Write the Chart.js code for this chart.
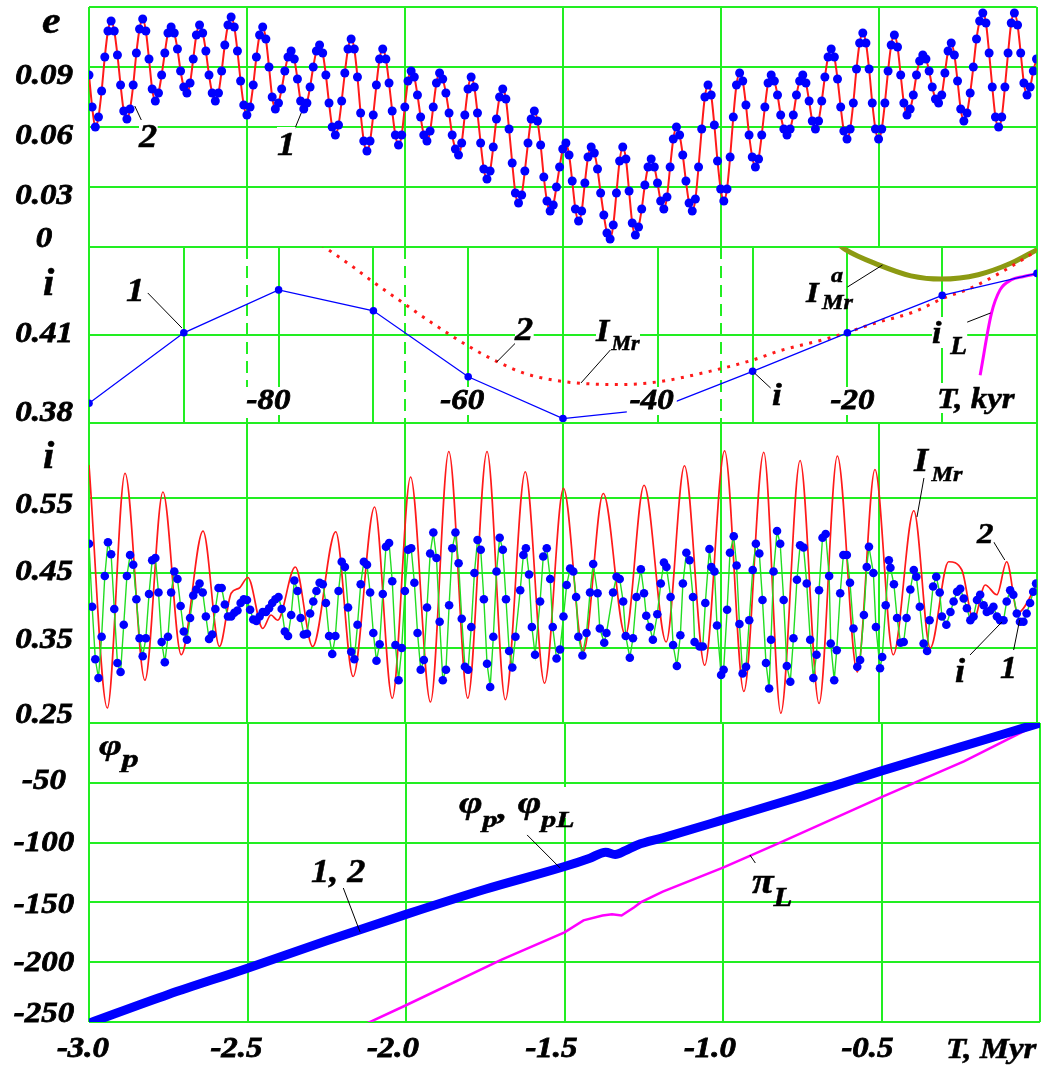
<!DOCTYPE html>
<html>
<head>
<meta charset="utf-8">
<title>Mars orbit: e, i, phi_p</title>
<script src="https://cdn.jsdelivr.net/npm/chart.js@4.4.1/dist/chart.umd.min.js"></script>
<style>
  body { margin: 0; background: #fff; }
  #page { position: relative; width: 1041px; height: 1066px; overflow: hidden; }
  canvas { position: absolute; left: 0; }
  .t { position: absolute; font-family: 'Liberation Serif', 'Times New Roman', serif; font-weight: bold;
       font-style: italic; color: #000; background: #fff; white-space: nowrap;
       -webkit-text-stroke: 0.5px #000;
       transform: scaleX(1.1); transform-origin: 0 0; }
  .w { transform: scaleX(1.3); }
  .n { background: transparent; }
  .s { position: relative; line-height: 0; }
</style>
</head>
<body>
<div id="page">
  <canvas id="chartEcc" width="1041" height="262" style="top:0"></canvas>
  <canvas id="chartKyr" width="1041" height="206" style="top:232px"></canvas>
  <canvas id="chartInc" width="1041" height="330" style="top:408px"></canvas>
  <canvas id="chartPhi" width="1041" height="358" style="top:708px"></canvas>

  <!-- panel 1 -->
  <div class="t" style="left:42px;top:1px;font-size:38px;line-height:38px">e</div>
  <div class="t" style="left:139px;top:120px;font-size:33px;line-height:33px">2</div>
  <div class="t" style="left:277px;top:127px;font-size:34px;line-height:34px">1</div>

  <!-- panel 2 (inset, kyr) -->
  <div class="t" style="left:43px;top:264px;font-size:37px;line-height:37px">i</div>
  <div class="t" style="left:126px;top:273px;font-size:34px;line-height:34px">1</div>
  <div class="t" style="left:515px;top:313px;font-size:33px;line-height:33px">2</div>
  <div class="t" style="left:596px;top:315px;font-size:31px;line-height:31px">I<span class="s" style="font-size:20px;top:9px;margin-left:2px">Mr</span></div>
  <div class="t" style="left:772px;top:378px;font-size:32px;line-height:32px">i</div>
  <div class="t" style="left:806px;top:277px;font-size:30px;line-height:30px">I</div>
  <div class="t n" style="left:831px;top:264px;font-size:22px;line-height:22px">a</div>
  <div class="t n" style="left:822px;top:291px;font-size:22px;line-height:22px">Mr</div>
  <div class="t" style="left:932px;top:317px;font-size:31px;line-height:31px">i<span class="s" style="font-size:25px;top:11px;margin-left:8px">L</span></div>
  <div class="t" style="left:937px;top:383px;font-size:30px;line-height:30px">T, kyr</div>

  <!-- panel 3 -->
  <div class="t" style="left:43px;top:437px;font-size:37px;line-height:37px">i</div>
  <div class="t" style="left:914px;top:444px;font-size:33px;line-height:33px">I<span class="s" style="font-size:22px;top:10px;margin-left:3px">Mr</span></div>
  <div class="t" style="left:977px;top:518px;font-size:30px;line-height:30px">2</div>
  <div class="t" style="left:955px;top:655px;font-size:33px;line-height:33px">i</div>
  <div class="t" style="left:1000px;top:652px;font-size:31px;line-height:31px">1</div>

  <!-- panel 4 -->
  <div class="t w" style="left:99px;top:730px;font-size:30px;line-height:30px">φ<span class="s" style="font-size:26px;top:12px">p</span></div>
  <div class="t w" style="left:459px;top:787px;font-size:31px;line-height:31px">φ<span class="s" style="font-size:23px;top:14px">p</span><span class="s" style="top:6px">,</span> φ<span class="s" style="font-size:23px;top:14px">pL</span></div>
  <div class="t" style="left:311px;top:855px;font-size:33px;line-height:33px">1, 2</div>
  <div class="t" style="left:752px;top:863px;font-size:36px;line-height:36px">π<span class="s" style="font-size:28px;top:13px">L</span></div>
  <div class="t" style="left:946px;top:1033px;font-size:30px;line-height:30px">T, Myr</div>
</div>

<script>
const COLORS = {
    grid:    '#22ee22',
    red:     '#ff1a1a',
    blue:    '#0000ff',
    green:   '#22dd22',
    magenta: '#ff00ff',
    olive:   '#8c9a12',
    black:   '#000000',
};

// shared time axis, Myr
const timeTicks = [-3, -2.5, -2, -1.5, -1, -0.5, 0];
const timeLabels = [-3, -2.5, -2, -1.5, -1, -0.5];

// ---- panel 1: eccentricity, one value every 10 kyr from -3.0 Myr ----
const eccStart = -3.0;
const eccStep = 0.01;
const eccentricity = [
    0.086, 0.070, 0.060, 0.065, 0.078, 0.095, 0.108, 0.113, 0.108, 0.096,
    0.081, 0.068, 0.064, 0.069, 0.081, 0.097, 0.109, 0.114, 0.108, 0.094,
    0.079, 0.073, 0.077, 0.086, 0.097, 0.107, 0.110, 0.107, 0.099, 0.088,
    0.080, 0.077, 0.082, 0.094, 0.106, 0.111, 0.107, 0.098, 0.086, 0.077,
    0.073, 0.077, 0.088, 0.101, 0.111, 0.115, 0.110, 0.098, 0.083, 0.071,
    0.066, 0.070, 0.081, 0.095, 0.106, 0.110, 0.104, 0.090, 0.075, 0.069,
    0.072, 0.079, 0.088, 0.095, 0.098, 0.094, 0.084, 0.073, 0.069, 0.072,
    0.080, 0.090, 0.098, 0.101, 0.097, 0.086, 0.072, 0.060, 0.056, 0.061,
    0.073, 0.087, 0.099, 0.104, 0.099, 0.085, 0.067, 0.053, 0.048, 0.053,
    0.066, 0.081, 0.094, 0.099, 0.094, 0.082, 0.068, 0.056, 0.051, 0.056,
    0.070, 0.083, 0.088, 0.085, 0.076, 0.065, 0.056, 0.053, 0.058, 0.070,
    0.082, 0.087, 0.084, 0.077, 0.067, 0.056, 0.049, 0.046, 0.052, 0.066,
    0.079, 0.085, 0.080, 0.067, 0.052, 0.039, 0.034, 0.038, 0.050, 0.064,
    0.075, 0.079, 0.074, 0.059, 0.042, 0.027, 0.022, 0.026, 0.038, 0.052,
    0.064, 0.068, 0.063, 0.051, 0.035, 0.023, 0.018, 0.021, 0.030, 0.040,
    0.049, 0.052, 0.046, 0.033, 0.019, 0.013, 0.018, 0.032, 0.045, 0.050,
    0.047, 0.039, 0.027, 0.016, 0.007, 0.004, 0.011, 0.027, 0.043, 0.050,
    0.044, 0.028, 0.012, 0.006, 0.010, 0.019, 0.031, 0.040, 0.044, 0.040,
    0.032, 0.023, 0.019, 0.025, 0.040, 0.054, 0.060, 0.056, 0.046, 0.033,
    0.022, 0.018, 0.024, 0.040, 0.059, 0.075, 0.081, 0.076, 0.061, 0.043,
    0.029, 0.023, 0.029, 0.045, 0.065, 0.081, 0.087, 0.083, 0.071, 0.056,
    0.045, 0.040, 0.044, 0.056, 0.070, 0.082, 0.086, 0.083, 0.076, 0.066,
    0.059, 0.056, 0.059, 0.066, 0.076, 0.083, 0.086, 0.082, 0.073, 0.063,
    0.059, 0.063, 0.073, 0.085, 0.095, 0.099, 0.095, 0.084, 0.070, 0.058,
    0.054, 0.059, 0.072, 0.089, 0.102, 0.107, 0.102, 0.089, 0.072, 0.059,
    0.054, 0.059, 0.072, 0.088, 0.101, 0.106, 0.100, 0.086, 0.072, 0.066,
    0.069, 0.076, 0.086, 0.093, 0.096, 0.094, 0.088, 0.080, 0.074, 0.072,
    0.076, 0.087, 0.098, 0.102, 0.096, 0.083, 0.069, 0.063, 0.067, 0.077,
    0.090, 0.104, 0.113, 0.117, 0.112, 0.097, 0.080, 0.065, 0.060, 0.065,
    0.080, 0.097, 0.112, 0.117, 0.111, 0.097, 0.082, 0.076, 0.080, 0.088,
    0.094,
];
const eccTicks = [0, 0.03, 0.06, 0.09, 0.12];
const eccLabels = [0, 0.03, 0.06, 0.09];

// ---- panel 2: last 100 kyr ----
const kyrTicks = [-100, -90, -80, -70, -60, -50, -40, -30, -20, -10, 0];
const kyrLabels = [-80, -60, -40, -20];
const kyrMyrDashed = [-2.5, -2.0, -1.0];
const recentTime = [-100, -90, -80, -70, -60, -50, -40, -30, -20, -10, 0];
const recentInc = [0.379, 0.411, 0.4305, 0.421, 0.391, 0.372, 0.3765, 0.3935, 0.411, 0.428, 0.438];
const recentIMr = [
    [-75.5, 0.451], [-72, 0.4405], [-70, 0.434], [-67, 0.425], [-64, 0.416], [-60, 0.405],
    [-57, 0.398], [-54, 0.3925], [-51, 0.3895], [-48, 0.388], [-44, 0.3875], [-40, 0.3887],
    [-35, 0.393], [-30, 0.3986], [-27, 0.403], [-22, 0.4085], [-17, 0.4155], [-13, 0.4205],
    [-10, 0.4265], [-7, 0.4313], [-4, 0.438], [-1, 0.4457], [0, 0.4485],
];
const recentIMrA = [
    [-21, 0.4515], [-20.2, 0.4488], [-16.7, 0.4419], [-13.3, 0.4369], [-10.1, 0.4354],
    [-6.2, 0.4374], [-2.7, 0.4427], [0, 0.4488],
];
const recentIL = [[-6.0, 0.3917], [-4.8, 0.4199], [-3.9, 0.4305], [-2.7, 0.4351], [-1.5, 0.4365], [0, 0.4378]];
const kyrIncTicks = [0.37, 0.41, 0.45];
const kyrIncLabels = [0.38, 0.41];

// ---- panel 3: inclination i (every 10 kyr from -3.0 Myr, then read pairs) and I_Mr ----
const incStart = -3.0;
const incStep = 0.01;
const incStepped = [
    0.489, 0.405, 0.335, 0.310, 0.365, 0.446, 0.491, 0.475, 0.402, 0.330,
    0.318, 0.381, 0.446, 0.474, 0.461, 0.415, 0.363, 0.339, 0.363, 0.422,
    0.467, 0.470, 0.424, 0.358, 0.331, 0.365, 0.424, 0.452, 0.442, 0.406,
    0.372, 0.361, 0.390, 0.420, 0.428, 0.436, 0.424, 0.392, 0.362, 0.368,
    0.402, 0.430, 0.430, 0.408, 0.392, 0.392, 0.397, 0.400, 0.410, 0.415,
    0.414, 0.401, 0.388, 0.386, 0.392, 0.398, 0.398, 0.403, 0.410, 0.415,
    0.418, 0.402, 0.372, 0.366, 0.394, 0.440, 0.426, 0.390, 0.368, 0.369,
    0.396, 0.412, 0.426, 0.437, 0.435, 0.410, 0.366, 0.342, 0.366, 0.426,
    0.465, 0.458, 0.404, 0.345, 0.335, 0.381, 0.435, 0.465, 0.461, 0.424,
    0.370, 0.333, 0.355, 0.422, 0.485, 0.490, 0.439, 0.354, 0.307, 0.350,
    0.426, 0.481, 0.483, 0.437, 0.370, 0.321, 0.334, 0.404, 0.476, 0.504,
    0.470, 0.385, 0.307, 0.321, 0.407, 0.483, 0.504, 0.463, 0.389, 0.325,
    0.321, 0.378, 0.450, 0.494, 0.481, 0.415, 0.329, 0.298, 0.365, 0.452,
    0.497, 0.481, 0.415, 0.346, 0.324, 0.365,
];
const incLate = [
    [-1.635, 0.427], [-1.625, 0.474], [-1.617, 0.483], [-1.607, 0.448], [-1.598, 0.378], [-1.588, 0.341],
    [-1.572, 0.412], [-1.562, 0.472], [-1.551, 0.483], [-1.540, 0.442], [-1.532, 0.378], [-1.520, 0.336],
    [-1.509, 0.348], [-1.498, 0.392], [-1.488, 0.434], [-1.477, 0.456], [-1.467, 0.452], [-1.458, 0.418],
    [-1.451, 0.365], [-1.438, 0.340], [-1.425, 0.370], [-1.414, 0.424], [-1.404, 0.462], [-1.390, 0.423],
    [-1.383, 0.376], [-1.369, 0.357], [-1.362, 0.370], [-1.341, 0.424], [-1.330, 0.445], [-1.320, 0.442],
    [-1.309, 0.412], [-1.301, 0.366], [-1.288, 0.337], [-1.278, 0.363], [-1.267, 0.418], [-1.253, 0.455],
    [-1.243, 0.423], [-1.236, 0.393], [-1.225, 0.378], [-1.215, 0.361], [-1.201, 0.395], [-1.190, 0.436],
    [-1.180, 0.464], [-1.172, 0.458], [-1.159, 0.418], [-1.151, 0.354], [-1.139, 0.326], [-1.128, 0.367],
    [-1.120, 0.436], [-1.109, 0.477], [-1.099, 0.467], [-1.088, 0.418], [-1.083, 0.358], [-1.067, 0.352],
    [-1.057, 0.352], [-1.049, 0.410], [-1.036, 0.482], [-1.030, 0.458], [-1.020, 0.452], [-1.012, 0.380],
    [-0.999, 0.314], [-0.991, 0.321], [-0.980, 0.401], [-0.971, 0.477], [-0.959, 0.499], [-0.950, 0.460],
    [-0.941, 0.382], [-0.931, 0.316], [-0.920, 0.325], [-0.910, 0.387], [-0.899, 0.454], [-0.889, 0.489],
    [-0.878, 0.476], [-0.868, 0.414], [-0.857, 0.330], [-0.847, 0.296], [-0.841, 0.361], [-0.833, 0.452],
    [-0.822, 0.506], [-0.812, 0.489], [-0.801, 0.414], [-0.791, 0.326], [-0.780, 0.305], [-0.770, 0.363],
    [-0.759, 0.441], [-0.749, 0.487], [-0.738, 0.484], [-0.728, 0.436], [-0.717, 0.361], [-0.707, 0.310],
    [-0.697, 0.341], [-0.689, 0.427], [-0.678, 0.497], [-0.668, 0.502], [-0.657, 0.446], [-0.652, 0.356],
    [-0.641, 0.307], [-0.633, 0.347], [-0.622, 0.423], [-0.612, 0.474], [-0.601, 0.474], [-0.591, 0.437],
    [-0.580, 0.376], [-0.568, 0.325], [-0.559, 0.334], [-0.547, 0.394], [-0.538, 0.458], [-0.531, 0.485],
    [-0.517, 0.450], [-0.509, 0.378], [-0.496, 0.323], [-0.489, 0.338], [-0.478, 0.407], [-0.468, 0.467],
    [-0.463, 0.457], [-0.452, 0.435], [-0.442, 0.390], [-0.431, 0.357], [-0.421, 0.358], [-0.412, 0.390],
    [-0.400, 0.428], [-0.389, 0.454], [-0.381, 0.445], [-0.370, 0.405], [-0.358, 0.356], [-0.347, 0.346],
    [-0.339, 0.387], [-0.328, 0.432], [-0.318, 0.445], [-0.307, 0.424], [-0.300, 0.392], [-0.286, 0.381],
    [-0.273, 0.398], [-0.263, 0.412], [-0.252, 0.425], [-0.242, 0.429], [-0.231, 0.416], [-0.221, 0.403],
    [-0.210, 0.387], [-0.200, 0.392], [-0.189, 0.414], [-0.179, 0.421], [-0.168, 0.407], [-0.158, 0.398],
    [-0.147, 0.400], [-0.137, 0.405], [-0.126, 0.392], [-0.116, 0.387], [-0.105, 0.387], [-0.095, 0.412],
    [-0.084, 0.427], [-0.074, 0.421], [-0.063, 0.396], [-0.053, 0.385], [-0.042, 0.385], [-0.032, 0.396],
    [-0.021, 0.410], [-0.011, 0.425], [-0.002, 0.436],
];
const iMr = [
    [-3.000, 0.594], [-2.942, 0.270], [-2.886, 0.583], [-2.823, 0.307], [-2.766, 0.558], [-2.708, 0.341],
    [-2.639, 0.506], [-2.587, 0.352], [-2.550, 0.423], [-2.524, 0.430], [-2.497, 0.444], [-2.450, 0.376],
    [-2.424, 0.394], [-2.403, 0.387], [-2.347, 0.458], [-2.292, 0.352], [-2.219, 0.505], [-2.164, 0.312],
    [-2.096, 0.538], [-2.040, 0.283], [-1.982, 0.578], [-1.919, 0.278], [-1.861, 0.612], [-1.801, 0.283],
    [-1.740, 0.612], [-1.682, 0.281], [-1.619, 0.585], [-1.558, 0.303], [-1.498, 0.563], [-1.435, 0.345],
    [-1.372, 0.556], [-1.302, 0.367], [-1.243, 0.567], [-1.173, 0.358], [-1.115, 0.593], [-1.051, 0.327],
    [-0.988, 0.613], [-0.927, 0.292], [-0.864, 0.611], [-0.810, 0.263], [-0.749, 0.600], [-0.689, 0.276],
    [-0.631, 0.606], [-0.568, 0.318], [-0.512, 0.588], [-0.454, 0.341], [-0.389, 0.533], [-0.337, 0.350],
    [-0.279, 0.465], [-0.237, 0.454], [-0.200, 0.387], [-0.163, 0.434], [-0.126, 0.421], [-0.095, 0.465],
    [-0.060, 0.397], [0.000, 0.434],
];
const incTicks = [0.25, 0.35, 0.45, 0.55, 0.65];
const incLabels = [0.25, 0.35, 0.45, 0.55];

// ---- panel 4: perihelion longitude phi_p (1, 2) and pi_L, degrees ----
const phiP = [
    [-3.0, -251], [-2.75, -227], [-2.5, -205], [-2.25, -182], [-2.0, -160], [-1.75, -139],
    [-1.5, -120], [-1.42, -113], [-1.37, -108], [-1.34, -110], [-1.31, -107], [-1.27, -102],
    [-1.19, -96], [-1.0, -81], [-0.75, -61], [-0.5, -40], [-0.25, -20], [0, 0],
];
const piL = [
    [-2.13, -252], [-2.0, -236], [-1.7, -198], [-1.5, -175], [-1.44, -165], [-1.38, -161],
    [-1.35, -160], [-1.32, -161], [-1.28, -154], [-1.26, -150], [-1.19, -141], [-1.0, -121],
    [-0.82, -100], [-0.5, -62], [-0.24, -32], [0, 0],
];
const phiTicks = [-250, -200, -150, -100, -50, 0];
const phiLabels = [-250, -200, -150, -100, -50];

// ---------------------------------------------------------------

function axis(min, max, ticks, horizontal, extra) {
    return Object.assign({
        type: 'linear',
        position: horizontal ? 'bottom' : 'left',
        min, max,
        afterBuildTicks: s => { s.ticks = ticks.map(v => ({ value: v })); },
        afterFit: s => { if (horizontal) s.height = 0; else s.width = 89; },
        ticks: { display: false },
        grid: { color: COLORS.grid, lineWidth: 2, drawTicks: false },
        border: { display: false },
    }, extra || {});
}

function baseOptions(top, bottom, scales) {
    return {
        responsive: false,
        animation: false,
        events: [],
        layout: { padding: { left: 0, right: 1, top, bottom } },
        plugins: { legend: { display: false }, tooltip: { enabled: false } },
        scales,
    };
}

function leader(a, b, xAxisID) {
    return {
        data: [a, b], xAxisID: xAxisID || 'x',
        borderColor: COLORS.black, borderWidth: 1, pointRadius: 0, order: 0,
    };
}

// numbers beside / under the axes, drawn from the scales
function tickText(items) {
    return {
        id: 'tickText',
        afterDatasetsDraw(chart) {
            const ctx = chart.ctx;
            const area = chart.chartArea;
            ctx.save();
            ctx.font = 'italic bold 30px "Liberation Serif", serif';
            ctx.textAlign = 'center';
            ctx.textBaseline = 'middle';
            ctx.lineWidth = 0.8;
            ctx.strokeStyle = '#000';
            items.forEach(it => {
                const scale = chart.scales[it.axis];
                it.values.forEach((v, i) => {
                    const text = v === 0 ? '0' : v.toFixed(it.decimals);
                    let x, y;
                    if (scale.isHorizontal()) {
                        x = scale.getPixelForValue(v) + it.shift[i];
                        y = area.bottom + it.offset;
                    } else {
                        x = it.offset;
                        y = scale.getPixelForValue(v) + it.shift[i];
                    }
                    const w = ctx.measureText(text).width * 1.1;
                    if (it.backdrop) {
                        ctx.fillStyle = '#fff';
                        ctx.fillRect(x - w / 2 - 3, y - 14, w + 6, 28);
                    }
                    ctx.fillStyle = '#000';
                    ctx.save();
                    ctx.translate(x, y);
                    ctx.scale(1.1, 1);
                    ctx.fillText(text, 0, 0);
                    ctx.strokeText(text, 0, 0);
                    ctx.restore();
                });
            });
            ctx.restore();
        },
    };
}

// panel 1
new Chart(document.getElementById('chartEcc'), {
    type: 'line',
    data: {
        datasets: [
            leader([-2.830, 0.062], [-2.855, 0.0705]),
            leader([-2.350, 0.0585], [-2.328, 0.067]),
            {
                data: eccentricity.map((v, k) => [eccStart + k * eccStep, v]),
                borderColor: COLORS.red, borderWidth: 2,
                cubicInterpolationMode: 'monotone',
                pointRadius: 4.5, pointBackgroundColor: COLORS.blue, pointBorderWidth: 0,
                order: 1,
            },
        ],
    },
    options: baseOptions(7, 15, {
        x: axis(-3, 0, timeTicks, true),
        y: axis(0, 0.12, eccTicks, false),
    }),
    plugins: [tickText([{ axis: 'y', values: eccLabels, decimals: 2, offset: 44, shift: [-8, 9, 9, 9] }])],
});

// panel 2
new Chart(document.getElementById('chartKyr'), {
    type: 'line',
    data: {
        datasets: [
            leader([-93.8, 0.4291], [-90.2, 0.4132], 'xk'),
            leader([-55.0, 0.4064], [-57.0, 0.3977], 'xk'),
            leader([-45.0, 0.4032], [-48.1, 0.3882], 'xk'),
            leader([-28.1, 0.3859], [-29.8, 0.3927], 'xk'),
            leader([-20.0, 0.4318], [-16.3, 0.4418], 'xk'),
            leader([-8.7, 0.4136], [-4.9, 0.4200], 'xk'),
            {
                data: recentTime.map((t, k) => [t, recentInc[k]]), xAxisID: 'xk',
                borderColor: COLORS.blue, borderWidth: 1.3,
                pointRadius: 3.8, pointBackgroundColor: COLORS.blue, pointBorderWidth: 0,
                order: 1,
            },
            {
                data: recentIMr, xAxisID: 'xk',
                borderColor: COLORS.red, borderWidth: 3, borderDash: [3, 6.5],
                cubicInterpolationMode: 'monotone', pointRadius: 0, order: 2,
            },
            {
                data: recentIMrA, xAxisID: 'xk',
                borderColor: COLORS.olive, borderWidth: 5,
                cubicInterpolationMode: 'monotone', pointRadius: 0, order: 2,
            },
            {
                data: recentIL, xAxisID: 'xk',
                borderColor: COLORS.magenta, borderWidth: 3,
                cubicInterpolationMode: 'monotone', pointRadius: 0, order: 2,
            },
        ],
    },
    options: baseOptions(15, 15, {
        x: axis(-3, 0, kyrMyrDashed, true, {
            border: { display: false, dash: [12, 7] },
        }),
        xk: axis(-100, 0, kyrTicks, true),
        y: axis(0.37, 0.45, kyrIncTicks, false),
    }),
    plugins: [tickText([
        { axis: 'y', values: kyrIncLabels, decimals: 2, offset: 44, shift: [12, -1] },
        { axis: 'xk', values: kyrLabels, decimals: 0, offset: -22, shift: [-10, -6, -6, 5], backdrop: true },
    ])],
});

// panel 3
new Chart(document.getElementById('chartInc'), {
    type: 'line',
    data: {
        datasets: [
            leader([-0.357, 0.5767], [-0.379, 0.5247]),
            leader([-0.136, 0.4913], [-0.101, 0.4673]),
            leader([-0.211, 0.3407], [-0.110, 0.3847]),
            leader([-0.073, 0.3473], [-0.054, 0.3873]),
            {
                data: incStepped.map((v, k) => [incStart + k * incStep, v]).concat(incLate),
                borderColor: COLORS.green, borderWidth: 1.4,
                pointRadius: 4.3, pointBackgroundColor: COLORS.blue, pointBorderWidth: 0,
                order: 1,
            },
            {
                data: iMr,
                borderColor: COLORS.red, borderWidth: 1.7,
                cubicInterpolationMode: 'monotone', pointRadius: 0, order: 2,
            },
        ],
    },
    options: baseOptions(15, 15, {
        x: axis(-3, 0, timeTicks, true),
        y: axis(0.25, 0.65, incTicks, false),
    }),
    plugins: [tickText([{ axis: 'y', values: incLabels, decimals: 2, offset: 44, shift: [-8, -8, -1, 7] }])],
});

// panel 4
new Chart(document.getElementById('chartPhi'), {
    type: 'line',
    data: {
        datasets: [
            leader([-1.618, -93.6], [-1.514, -121.2]),
            leader([-2.199, -137.1], [-2.145, -174.7]),
            leader([-0.883, -122.9], [-0.915, -110.4]),
            {
                data: phiP, borderColor: COLORS.blue, borderWidth: 9,
                cubicInterpolationMode: 'monotone',
                pointRadius: 0, order: 1,
            },
            {
                data: piL, borderColor: COLORS.magenta, borderWidth: 2.5,
                pointRadius: 0, order: 2,
            },
        ],
    },
    options: baseOptions(15, 44, {
        x: axis(-3, 0, timeTicks, true),
        y: axis(-250, 0, phiTicks, false),
    }),
    plugins: [tickText([
        { axis: 'y', values: phiLabels, decimals: 0, offset: 44, shift: [-8, 1, 3, 1, -2] },
        { axis: 'x', values: timeLabels, decimals: 1, offset: 27, shift: [-6, -11, -13, -13, -13, -14] },
    ])],
});
</script>
</body>
</html>
